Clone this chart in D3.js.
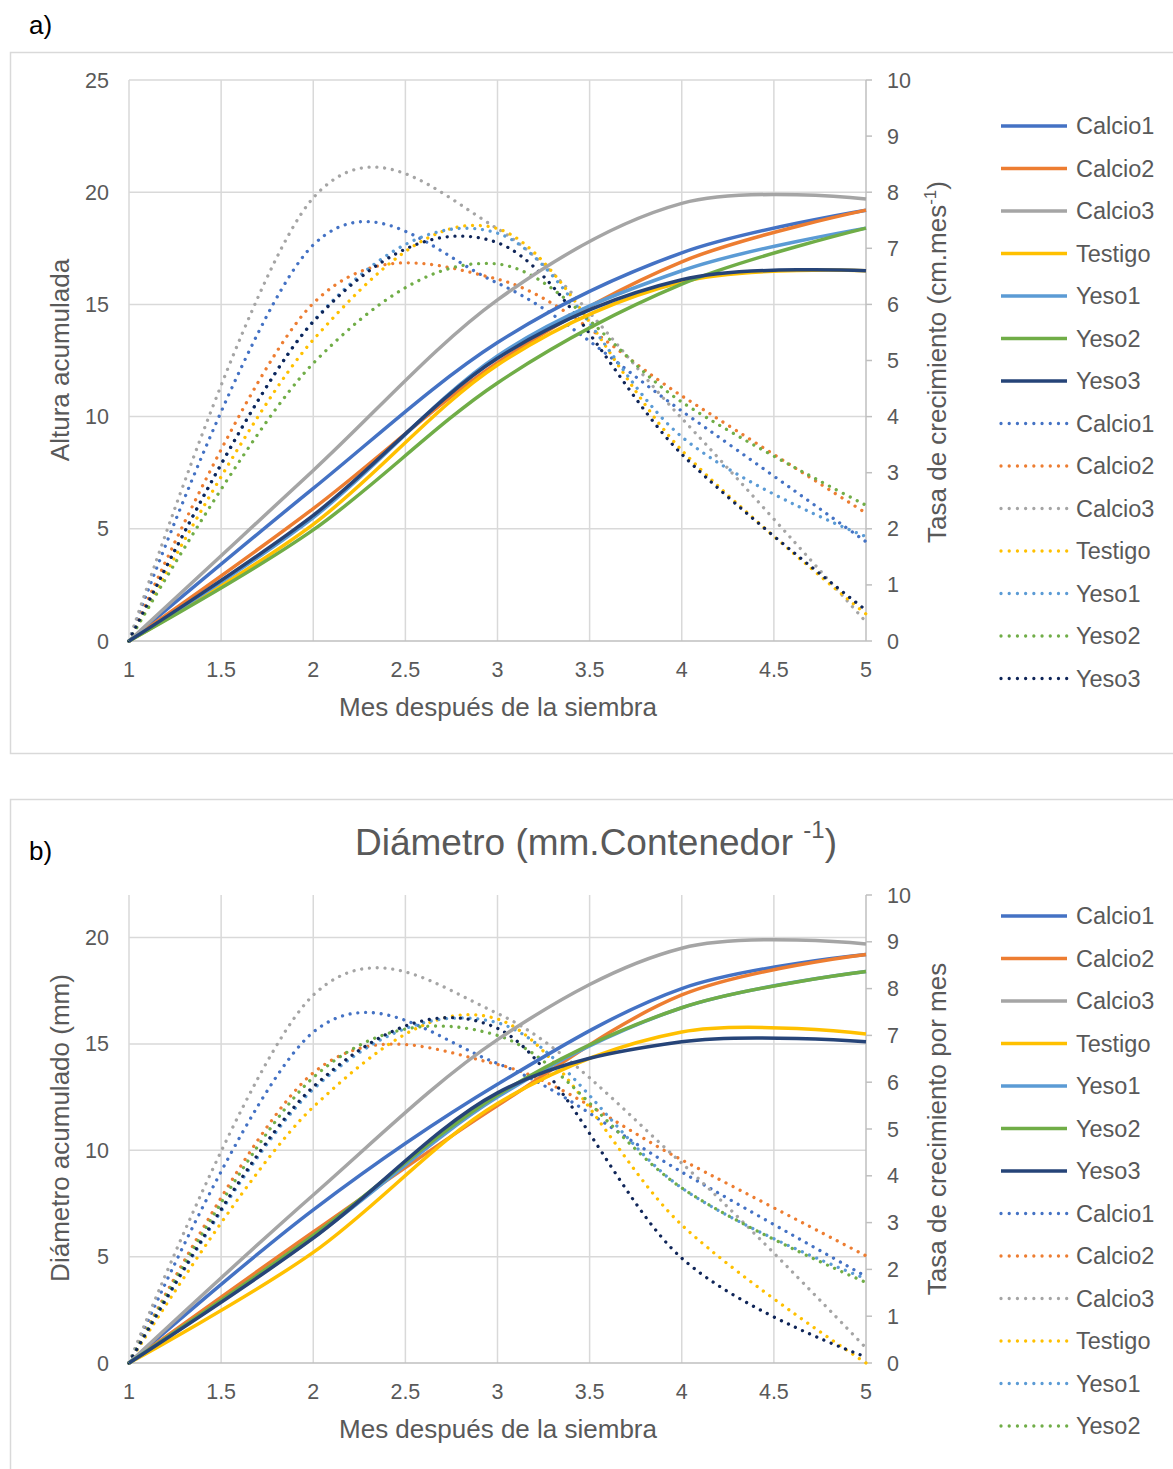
<!DOCTYPE html>
<html><head><meta charset="utf-8">
<script src="https://cdn.jsdelivr.net/npm/d3@7"></script>
<style>
body{margin:0;background:#fff}
svg{display:block}
text{font-family:"Liberation Sans",Arial,sans-serif;fill:#595959}
</style>
</head><body>
<svg id="c" width="1173" height="1469"></svg>
<script>
// ---------- DATA ----------
const months = [1, 2, 3, 4, 5];
const xTicks = [1, 1.5, 2, 2.5, 3, 3.5, 4, 4.5, 5];
const seriesNames = ["Calcio1", "Calcio2", "Calcio3", "Testigo", "Yeso1", "Yeso2", "Yeso3"];
const solidColors = ["#4472C4", "#ED7D31", "#A5A5A5", "#FFC000", "#5B9BD5", "#70AD47", "#264478"];
const dotColors = ["#4472C4", "#ED7D31", "#A5A5A5", "#FFC000", "#5B9BD5", "#70AD47", "#0F2558"];

// a) Altura acumulada (left axis)
const altCalcio1 = [0, 6.8, 13.3, 17.3, 19.2];
const altCalcio2 = [0, 5.9, 12.4, 16.9, 19.2];
const altCalcio3 = [0, 7.6, 15.2, 19.5, 19.7];
const altTestigo = [0, 5.2, 12.3, 16.0, 16.5];
const altYeso1 = [0, 5.5, 12.7, 16.5, 18.4];
const altYeso2 = [0, 4.95, 11.5, 15.9, 18.4];
const altYeso3 = [0, 5.6, 12.6, 16.1, 16.5];
// a) Tasa de crecimiento (right axis)
const tasaACalcio1 = [0, 7.06, 6.38, 4.1, 1.77];
const tasaACalcio2 = [0, 6.02, 6.45, 4.37, 2.28];
const tasaACalcio3 = [0, 7.9, 7.35, 3.97, 0.34];
const tasaATestigo = [0, 5.37, 7.35, 3.4, 0.48];
const tasaAYeso1 = [0, 5.7, 7.27, 3.64, 1.86];
const tasaAYeso2 = [0, 4.95, 6.72, 4.26, 2.42];
const tasaAYeso3 = [0, 5.69, 7.1, 3.33, 0.55];

// b) Diámetro acumulado (left axis)
const diaCalcio1 = [0, 7.2, 13.1, 17.6, 19.2];
const diaCalcio2 = [0, 6.16, 12.1, 17.3, 19.2];
const diaCalcio3 = [0, 7.9, 15.2, 19.5, 19.7];
const diaTestigo = [0, 5.2, 12.2, 15.56, 15.47];
const diaYeso1 = [0, 5.9, 12.5, 16.7, 18.4];
const diaYeso2 = [0, 6.0, 12.6, 16.7, 18.4];
const diaYeso3 = [0, 5.87, 12.7, 15.1, 15.1];
// b) Tasa de crecimiento por mes (right axis)
const tasaBCalcio1 = [0, 7.07, 6.4, 4.08, 1.85];
const tasaBCalcio2 = [0, 6.2, 6.38, 4.34, 2.29];
const tasaBCalcio3 = [0, 7.86, 7.47, 4.27, 0.32];
const tasaBTestigo = [0, 5.47, 7.35, 2.95, 0.0];
const tasaBYeso1 = [0, 5.85, 7.27, 3.74, 1.8];
const tasaBYeso2 = [0, 6.1, 7.0, 3.74, 1.72];
const tasaBYeso3 = [0, 5.9, 7.15, 2.24, 0.13];

const leftTicksA = [0, 5, 10, 15, 20, 25];
const leftTicksB = [0, 5, 10, 15, 20];
const rightTicks = [0, 1, 2, 3, 4, 5, 6, 7, 8, 9, 10];

// ---------- DRAW ----------
const svg = d3.select("#c");
const x = d3.scaleLinear().domain([1, 5]).range([129, 866]);

function drawChart(cfg) {
  const g = svg.append("g");
  const yL = d3.scaleLinear().domain([0, cfg.leftMax]).range([cfg.bottom, cfg.top]);
  const yR = d3.scaleLinear().domain([0, 10]).range([cfg.bottom, cfg.top]);

  // gridlines
  g.selectAll(".hg").data(cfg.leftTicks.filter(d => d > 0)).join("line")
    .attr("x1", x(1)).attr("x2", x(5)).attr("y1", d => yL(d)).attr("y2", d => yL(d))
    .attr("stroke", "#d9d9d9").attr("stroke-width", 1.5);
  g.selectAll(".vg").data(xTicks.filter(d => d < 5)).join("line")
    .attr("x1", d => x(d)).attr("x2", d => x(d)).attr("y1", cfg.top).attr("y2", cfg.bottom)
    .attr("stroke", "#d9d9d9").attr("stroke-width", 1.5);
  // axes lines
  g.append("line").attr("x1", x(1)).attr("x2", x(5)).attr("y1", cfg.bottom).attr("y2", cfg.bottom)
    .attr("stroke", "#bfbfbf").attr("stroke-width", 1.5);
  g.append("line").attr("x1", x(5)).attr("x2", x(5)).attr("y1", cfg.top).attr("y2", cfg.bottom)
    .attr("stroke", "#bfbfbf").attr("stroke-width", 1.5);
  g.selectAll(".rt").data(rightTicks).join("line")
    .attr("x1", x(5)).attr("x2", x(5) + 6).attr("y1", d => yR(d)).attr("y2", d => yR(d))
    .attr("stroke", "#bfbfbf").attr("stroke-width", 1.5);

  // tick labels
  g.selectAll(".lt").data(cfg.leftTicks).join("text")
    .attr("x", 109).attr("y", d => yL(d)).attr("dy", "0.35em")
    .attr("text-anchor", "end").attr("font-size", 21.5).text(d => d);
  g.selectAll(".rtl").data(rightTicks).join("text")
    .attr("x", 887).attr("y", d => yR(d)).attr("dy", "0.35em")
    .attr("text-anchor", "start").attr("font-size", 21.5).text(d => d);
  g.selectAll(".bt").data(xTicks).join("text")
    .attr("x", d => x(d)).attr("y", cfg.bottom + 28).attr("dy", "0.35em")
    .attr("text-anchor", "middle").attr("font-size", 21.5).text(d => d);

  // axis titles
  g.append("text").attr("x", 498).attr("y", cfg.bottom + 66).attr("dy", "0.35em")
    .attr("text-anchor", "middle").attr("font-size", 26).text("Mes después de la siembra");
  g.append("text").attr("transform", `translate(60,${cfg.leftTitleY}) rotate(-90)`)
    .attr("dy", "0.35em").attr("text-anchor", "middle").attr("font-size", 26).text(cfg.leftTitle);
  const rt = g.append("text").attr("transform", `translate(937,${cfg.rightTitleY}) rotate(-90)`)
    .attr("dy", "0.35em").attr("text-anchor", "middle").attr("font-size", 26);
  rt.append("tspan").text(cfg.rightTitle);
  if (cfg.rightSup) {
    rt.append("tspan").attr("font-size", 17).attr("dy", "-0.6em").text(cfg.rightSup);
    rt.append("tspan").attr("dy", "0.4em").text(")");
  }

  const line = (yS) => d3.line().x((d, i) => x(months[i])).y(d => yS(d)).curve(d3.curveCardinal.tension(0));

  // dotted rate series
  cfg.dotted.forEach((vals, i) => {
    g.append("path").attr("d", line(yR)(vals)).attr("fill", "none")
      .attr("stroke", dotColors[i]).attr("stroke-width", 3.3)
      .attr("stroke-linecap", "round").attr("stroke-dasharray", "0.01 7.8");
  });
  // solid cumulative series
  cfg.solid.forEach((vals, i) => {
    g.append("path").attr("d", line(yL)(vals)).attr("fill", "none")
      .attr("stroke", solidColors[i]).attr("stroke-width", 3.5).attr("stroke-linejoin", "round");
  });

  // legend
  const entries = [];
  seriesNames.forEach((n, i) => entries.push({ name: n, color: solidColors[i], dot: false }));
  seriesNames.forEach((n, i) => entries.push({ name: n, color: dotColors[i], dot: true }));
  entries.slice(0, cfg.legendCount).forEach((e, i) => {
    const yy = cfg.legendTop + i * 42.5;
    g.append("line").attr("x1", 1001).attr("x2", 1067).attr("y1", yy).attr("y2", yy)
      .attr("stroke", e.color).attr("stroke-width", 3.3)
      .attr("stroke-linecap", e.dot ? "round" : "butt")
      .attr("stroke-dasharray", e.dot ? "0.01 8.2" : null);
    g.append("text").attr("x", 1076).attr("y", yy).attr("dy", "0.35em")
      .attr("font-size", 23.5).text(e.name);
  });
}

// panel borders
svg.append("rect").attr("x", 10.5).attr("y", 52.5).attr("width", 1200).attr("height", 701)
  .attr("fill", "none").attr("stroke", "#d9d9d9").attr("stroke-width", 1.5);
svg.append("rect").attr("x", 10.5).attr("y", 799.5).attr("width", 1200).attr("height", 700)
  .attr("fill", "none").attr("stroke", "#d9d9d9").attr("stroke-width", 1.5);

svg.append("text").attr("x", 29).attr("y", 25).attr("dy", "0.35em").attr("font-size", 26)
  .style("fill", "#000").text("a)");
svg.append("text").attr("x", 29).attr("y", 851).attr("dy", "0.35em").attr("font-size", 26)
  .style("fill", "#000").text("b)");
const title = svg.append("text").attr("x", 596).attr("y", 842).attr("dy", "0.35em")
  .attr("text-anchor", "middle").attr("font-size", 37);
title.append("tspan").text("Diámetro (mm.Contenedor ");
title.append("tspan").attr("font-size", 24).attr("dy", "-0.7em").text("-1");
title.append("tspan").attr("dy", "0.45em").text(")");

drawChart({
  top: 80, bottom: 641, leftMax: 25, leftTicks: leftTicksA,
  solid: [altCalcio1, altCalcio2, altCalcio3, altTestigo, altYeso1, altYeso2, altYeso3],
  dotted: [tasaACalcio1, tasaACalcio2, tasaACalcio3, tasaATestigo, tasaAYeso1, tasaAYeso2, tasaAYeso3],
  leftTitle: "Altura acumulada", leftTitleY: 360,
  rightTitle: "Tasa de crecimiento (cm.mes", rightSup: "-1", rightTitleY: 362,
  legendTop: 126, legendCount: 14
});
drawChart({
  top: 895, bottom: 1363, leftMax: 22, leftTicks: leftTicksB,
  solid: [diaCalcio1, diaCalcio2, diaCalcio3, diaTestigo, diaYeso1, diaYeso2, diaYeso3],
  dotted: [tasaBCalcio1, tasaBCalcio2, tasaBCalcio3, tasaBTestigo, tasaBYeso1, tasaBYeso2, tasaBYeso3],
  leftTitle: "Diámetro acumulado (mm)", leftTitleY: 1128,
  rightTitle: "Tasa de crecimiento por mes", rightSup: null, rightTitleY: 1129,
  legendTop: 916, legendCount: 13
});
</script>
</body></html>
